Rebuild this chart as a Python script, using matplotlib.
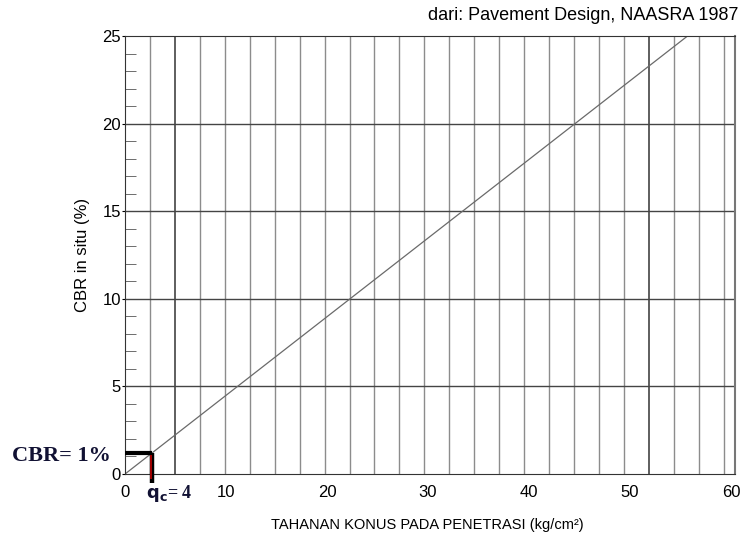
import numpy as np
import matplotlib.pyplot as plt
from matplotlib.ticker import MultipleLocator

plt.rcParams['font.family'] = ['Liberation Sans', 'DejaVu Sans']

# data
konus = [0, 55.7]          # kg/cm2
cbr = [0, 25]              # %
x_ticks = [0, 10, 20, 30, 40, 50, 60]
y_ticks = [0, 5, 10, 15, 20, 25]
qc_mark = 2.7
cbr_mark = 1.2

fig = plt.figure(figsize=(7.41, 5.49), dpi=100)
ax = fig.add_axes([0.1687, 0.1366, 0.8232, 0.7978])

ax.set_xlim(0, 60.4)
ax.set_ylim(0, 25)

# vertical grid (drawn chart has spacing not matching labels)
vlines = np.arange(1, 25) * 2.47
for i, xv in enumerate(vlines):
    dark = i in (1, 20)
    ax.axvline(xv, color='#333333' if dark else '#8c8c8c', lw=1.1 if dark else 1.0, zorder=1)
for yv in [5, 10, 15, 20]:
    ax.axhline(yv, color='#444444', lw=1.0, zorder=1)

ax.plot(konus, cbr, color='#6a6a6a', lw=0.9, zorder=2)

# marker for CBR = 1 %
ax.plot([0, qc_mark], [cbr_mark, cbr_mark], color='black', lw=3, zorder=4,
        solid_capstyle='butt', clip_on=False)
ax.plot([qc_mark, qc_mark], [cbr_mark, -0.5], color='black', lw=3.2, zorder=4,
        solid_capstyle='butt', clip_on=False)
ax.plot([qc_mark - 0.12, qc_mark - 0.12], [cbr_mark - 0.1, -0.3], color='#c00000', lw=1.2,
        zorder=5, solid_capstyle='butt', clip_on=False)

ax.set_xticks(x_ticks)
ax.set_yticks(y_ticks)
ax.yaxis.set_minor_locator(MultipleLocator(1))
ax.tick_params(axis='x', length=0, pad=8, labelsize=12)
ax.tick_params(axis='y', which='major', length=2, pad=1, labelsize=12, direction='out')
ax.tick_params(axis='y', which='minor', length=8, direction='in', color='#555555')

for s in ['left', 'bottom', 'top']:
    ax.spines[s].set_color('#333333')
ax.spines['right'].set_color('#777777')
ax.spines['right'].set_linewidth(1.5)

ax.set_ylabel('CBR in situ (%)', fontsize=12, labelpad=9)
fig.text(0.577, 0.036, 'TAHANAN KONUS PADA PENETRASI (kg/cm\u00b2)', ha='center', fontsize=10.5)
fig.text(0.996, 0.963, 'dari: Pavement Design, NAASRA 1987', ha='right', fontsize=13)

fig.text(0.016, 0.16, 'CBR= 1%', fontsize=16, fontweight='bold',
         family='Liberation Serif', color='#111133')
fig.text(0.197, 0.092, r'$\mathbf{q_c}$= 4', fontsize=13, fontweight='bold',
         family='Liberation Serif', color='#111133')

fig.savefig('out.png', dpi=100)
